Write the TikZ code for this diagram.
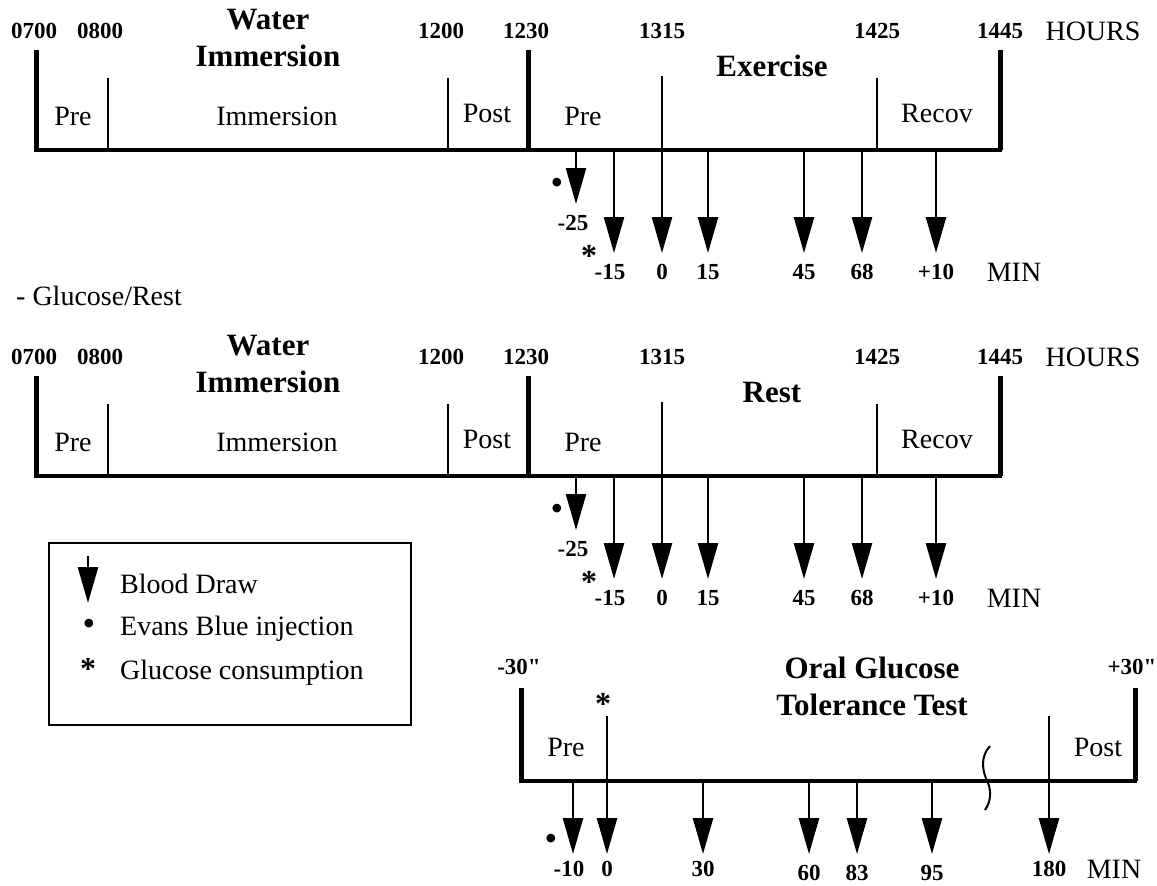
\documentclass[tikz,border=0pt]{standalone}
\usepackage{fontspec}
\setmainfont{Liberation Serif}
\usetikzlibrary{arrows.meta}
\tikzset{
  every node/.style={inner sep=0pt},
  barline/.style={line width=5pt},
  axisline/.style={line width=3.5pt, line cap=rect},
  thinline/.style={line width=2.5pt},
  bdarrow/.style={line width=2.5pt,-{Triangle[width=20pt,length=36pt]}},
  lbl/.style={font=\fontsize{28}{30}\selectfont},
  num/.style={font=\fontsize{23}{25}\selectfont\bfseries},
  ttl/.style={font=\fontsize{31}{37}\selectfont\bfseries, align=center},
  symb/.style={font=\fontsize{36}{38}\selectfont, anchor=base},
  astk/.style={font=\fontsize{32}{34}\selectfont\bfseries, anchor=base},
  boxline/.style={line width=2pt}
}
\begin{document}
\begin{tikzpicture}[x=1pt,y=-1pt]
\useasboundingbox (0,0) rectangle (1157,886);
% ---------- two day timelines ----------
\foreach \s/\dy/\act in {A/0/Exercise,B/326/Rest}{
  \coordinate (\s-Lt) at (36,50+\dy);
  \coordinate (\s-Lb) at (36,150+\dy);
  \coordinate (\s-Mt) at (528,50+\dy);
  \coordinate (\s-Mb) at (528,150+\dy);
  \coordinate (\s-Rt) at (1000,50+\dy);
  \coordinate (\s-Rb) at (1000,150+\dy);
  \foreach \n/\tx in {a/108,b/448,c/877}{
    \coordinate (\s-\n-t) at (\tx,78+\dy);
    \coordinate (\s-\n-b) at (\tx,150+\dy);
    \draw[thinline] (\s-\n-t) -- (\s-\n-b);
  }
  \draw[axisline] (\s-Lb) -- (\s-Rb);
  \draw[barline] (\s-Lt) -- (\s-Lb);
  \draw[barline] (\s-Mt) -- (\s-Mb);
  \draw[barline] (\s-Rt) -- (\s-Rb);
  % hour labels
  \node[num] (\s-h0700) at (34,31+\dy) {0700};
  \node[num] (\s-h0800) at (100,31+\dy) {0800};
  \node[num] (\s-h1200) at (441,31+\dy) {1200};
  \node[num] (\s-h1230) at (526,31+\dy) {1230};
  \node[num] (\s-h1315) at (662,31+\dy) {1315};
  \node[num] (\s-h1425) at (877,31+\dy) {1425};
  \node[num] (\s-h1445) at (1000,31+\dy) {1445};
  \node[lbl] (\s-hours) at (1093,31+\dy) {HOURS};
  \node[ttl] (\s-wi) at (268,38+\dy) {Water\\Immersion};
  \node[ttl] (\s-act) at (772,66+\dy) {\act};
  % phase labels
  \node[lbl] (\s-pre1) at (73,116+\dy) {Pre};
  \node[lbl] (\s-imm) at (277,116+\dy) {Immersion};
  \node[lbl] (\s-post) at (487,113+\dy) {Post};
  \node[lbl] (\s-pre2) at (583,116+\dy) {Pre};
  \node[lbl] (\s-recov) at (937,113+\dy) {Recov};
  % blood draws
  \coordinate (\s-z-t) at (662,76+\dy);
  \coordinate (\s-z-e) at (662,253+\dy);
  \draw[bdarrow] (\s-z-t) -- (\s-z-e);
  \foreach \n/\ax/\ay in {m25/576/204,m15/614/253,p15/708/253,p45/804/253,p68/862/253,p10/936/253}{
    \coordinate (\s-\n-s) at (\ax,150+\dy);
    \coordinate (\s-\n-e) at (\ax,\ay+\dy);
    \draw[bdarrow] (\s-\n-s) -- (\s-\n-e);
  }
  \foreach \n/\lx/\lt in {m15/610/-15,p0/662/0,p15/708/15,p45/804/45,p68/862/68,p10/936/+10}{
    \node[num] (\s-l\n) at (\lx,272+\dy) {\lt};
  }
  \node[lbl] (\s-min) at (1014,272+\dy) {MIN};
  \node[num] (\s-lm25) at (573,223+\dy) {-25};
  \node[symb] (\s-dot) at (557,194+\dy) {\textbullet};
  \node[astk] (\s-star) at (589,266+\dy) {*};
}
\node[lbl, anchor=west] (gr) at (16,296) {- Glucose/Rest};
% ---------- legend ----------
\node[draw, boxline, minimum width=362pt, minimum height=182pt, anchor=north west] (legend) at (48,542) {};
\coordinate (lg-a) at (88,556);
\coordinate (lg-b) at (88,603);
\draw[bdarrow] (lg-a) -- (lg-b);
\node[lbl, anchor=west] (lg-t1) at (120,584) {Blood Draw};
\node[symb] (lg-dot) at (89,635) {\textbullet};
\node[lbl, anchor=west] (lg-t2) at (120,629) {Evans Blue injection};
\node[astk] (lg-star) at (88,679) {*};
\node[lbl, anchor=west] (lg-t3) at (120,673) {Glucose consumption};
% ---------- OGTT ----------
\coordinate (O-Lt) at (521,688);
\coordinate (O-Lb) at (521,781);
\coordinate (O-Rt) at (1135,688);
\coordinate (O-Rb) at (1135,781);
\draw[axisline] (O-Lb) -- (O-Rb);
\draw[barline] (O-Lt) -- (O-Lb);
\draw[barline] (O-Rt) -- (O-Rb);
\node[num] (O-m30) at (519,667) {-30\textquotedbl};
\node[num] (O-p30) at (1132,667) {+30\textquotedbl};
\node[ttl] (O-ttl) at (872,686) {Oral Glucose\\Tolerance Test};
\node[lbl] (O-pre) at (566,747) {Pre};
\node[lbl] (O-post) at (1098,747) {Post};
\node[astk] (O-star) at (603,714) {*};
\coordinate (O-z-t) at (607,716);
\coordinate (O-z-e) at (607,854);
\draw[bdarrow] (O-z-t) -- (O-z-e);
\coordinate (O-k-t) at (1049,716);
\coordinate (O-k-e) at (1049,854);
\draw[bdarrow] (O-k-t) -- (O-k-e);
\foreach \n/\ax in {m10/573,p30/703,p60/809,p83/857,p95/932}{
  \coordinate (O-\n-s) at (\ax,781);
  \coordinate (O-\n-e) at (\ax,854);
  \draw[bdarrow] (O-\n-s) -- (O-\n-e);
}
\foreach \n/\lx/\ly/\lt in {m10/569/869/-10,p0/607/869/0,p30/703/869/30,p60/809/873/60,p83/857/873/83,p95/932/873/95,p180/1049/869/180}{
  \node[num] (O-l\n) at (\lx,\ly) {\lt};
}
\node[lbl] (O-min) at (1114,869) {MIN};
\node[symb] (O-dot) at (551,850) {\textbullet};
\coordinate (O-br1) at (990,746);
\coordinate (O-br2) at (988,783);
\coordinate (O-br3) at (985,810);
\draw[thinline, line width=2pt] (O-br1) .. controls (980,757) and (982,771) .. (O-br2) .. controls (992,793) and (990,803) .. (O-br3);
\end{tikzpicture}
\end{document}
